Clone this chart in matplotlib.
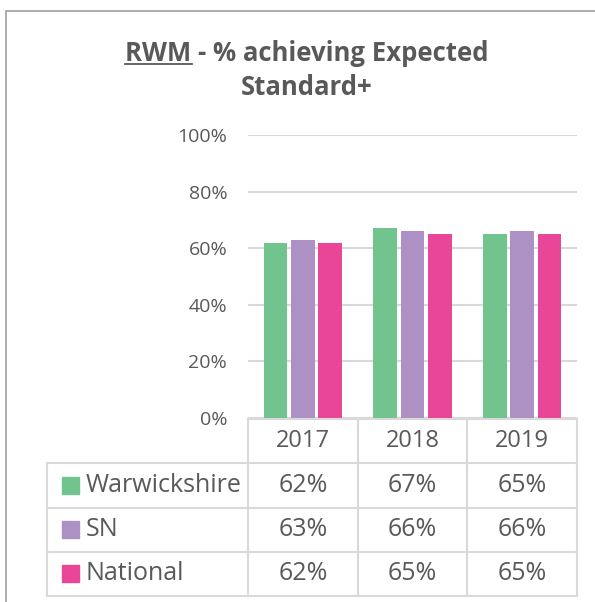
import matplotlib
matplotlib.use("Agg")
import matplotlib.pyplot as plt
from matplotlib.lines import Line2D
from matplotlib.patches import Rectangle

years = ['2017', '2018', '2019']
series = ['Warwickshire', 'SN', 'National']
warwickshire = [62, 67, 65]
sn = [63, 66, 66]
national = [62, 65, 65]
colors = ['#71C48D', '#AD90C4', '#E94697']

plt.rcParams['font.family'] = ['Open Sans', 'DejaVu Sans']
grey = '#595959'
grid = '#D9D9D9'

W, H = 595, 602
fig = plt.figure(figsize=(W / 100, H / 100), dpi=100)


def box(l, t, r, b):
    # pixel box -> figure fraction rect
    return [l / W, 1 - b / H, (r - l) / W, (b - t) / H]


def px(x, y):
    return x / W, 1 - y / H


# outer chart border
fig.add_artist(Rectangle(px(6, 640), 700 / W, 629 / H, transform=fig.transFigure,
                         fill=False, ec='#A0A0A0', lw=1.2))

# title
tsize = 18.5
t1 = fig.text(*px(307, 61), 'RWM - % achieving Expected', ha='center', va='baseline',
              fontsize=tsize, fontweight='bold', color=grey)
fig.text(*px(307, 95), 'Standard+', ha='center', va='baseline',
         fontsize=tsize, fontweight='bold', color=grey)

# bars
ax = fig.add_axes(box(248, 135, 577, 418))
values = [warwickshire, sn, national]
step = 0.249
width = 0.214
for i, (vals, c) in enumerate(zip(values, colors)):
    xs = [j + (i - 1) * step for j in range(len(years))]
    ax.bar(xs, vals, width=width, color=c, zorder=3)
ax.set_xlim(-0.5, 2.5)
ax.set_ylim(0, 100)
ticks = list(range(0, 101, 20))
ax.set_yticks(ticks)
ax.set_yticklabels([f'{v}%' for v in ticks], color=grey, fontsize=14)
ax.tick_params(axis='y', length=0, pad=15)
ax.set_xticks([])
ax.grid(axis='y', color=grid, lw=1.5, zorder=0)
for s in ax.spines.values():
    s.set_visible(False)

# data table below the axis, columns lined up with the categories
tab = fig.add_axes(box(47, 419, 577, 596))
cat_px = 329 / 3
x0 = -0.5 - (248 - 47) / cat_px
tab.set_xlim(x0, 2.5)
tab.set_ylim(4, 0)
tab.axis('off')

lkw = dict(color=grid, lw=1.5, clip_on=False)
tab.add_line(Line2D([-0.5, 2.5], [0, 0], **lkw))
for r in range(1, 5):
    tab.add_line(Line2D([x0, 2.5], [r, r], **lkw))
for c in [-0.5, 0.5, 1.5, 2.5]:
    tab.add_line(Line2D([c, c], [0, 4], **lkw))
tab.add_line(Line2D([x0, x0], [1, 4], **lkw))

for j, y in enumerate(years):
    tab.text(j, 0.5, y, ha='center', va='center', fontsize=17, color=grey)

sq_w = 17 / cat_px
sq_h = 17 / 44.25
for i, (name, vals, c) in enumerate(zip(series, values, colors)):
    yc = i + 1.5
    tab.add_patch(Rectangle((x0 + 15 / cat_px, yc - sq_h / 2), sq_w, sq_h,
                            color=c, clip_on=False))
    tab.text(x0 + 39 / cat_px, yc, name, ha='left', va='center',
             fontsize=18, color=grey)
    for j, v in enumerate(vals):
        tab.text(j, yc, f'{v}%', ha='center', va='center', fontsize=18, color=grey)

# underline "RWM" in the title
fig.canvas.draw()
r = fig.canvas.get_renderer()
bb = t1.get_window_extent(r)
tmp = fig.text(0, 0, 'RWM', fontsize=tsize, fontweight='bold')
w = tmp.get_window_extent(r).width
tmp.remove()
fig.add_artist(Line2D([bb.x0, bb.x0 + w], [H - 64, H - 64], transform=None,
                      color=grey, lw=1.3))

fig.savefig('out.png', dpi=100)
